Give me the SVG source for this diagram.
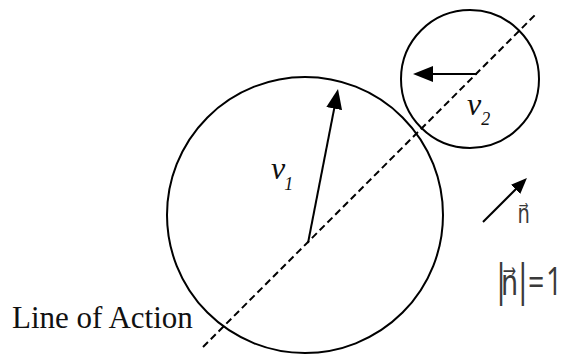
<svg xmlns="http://www.w3.org/2000/svg" width="563" height="357" viewBox="0 0 563 357">
<style>
.ln{stroke:#000;stroke-width:2;fill:none}
.serif{font-family:"Liberation Serif","Times New Roman",serif;fill:#111}
.it{font-style:italic}
.sans{font-family:"Open Sans","DejaVu Sans",sans-serif;fill:#3a3a3a}
</style>
<defs>
<marker id="ah" viewBox="0 0 20 16" refX="10" refY="8" markerWidth="20" markerHeight="16" markerUnits="userSpaceOnUse" orient="auto">
<path d="M0,0 L20,8 L0,16 Z" fill="#000"/>
</marker>
<marker id="ahs" viewBox="0 0 16 13" refX="9" refY="6.5" markerWidth="16" markerHeight="13" markerUnits="userSpaceOnUse" orient="auto">
<path d="M0,0 L16,6.5 L0,13 Z" fill="#000"/>
</marker>
</defs>
<rect width="563" height="357" fill="#fff"/>
<g id="ball1">
<circle class="ln" cx="305" cy="215" r="138"/>
</g>
<g id="ball2">
<circle class="ln" cx="470" cy="79" r="69"/>
</g>
<g id="connectors">
<line class="ln" x1="203" y1="347" x2="535" y2="15" stroke-dasharray="7,4"/>
<line class="ln" x1="308" y1="243" x2="336.1" y2="98.8" marker-end="url(#ah)"/>
<line class="ln" x1="477" y1="74" x2="423" y2="74" marker-end="url(#ah)"/>
<line class="ln" x1="483" y1="222" x2="522" y2="183" marker-end="url(#ahs)"/>
</g>
<g id="labels">
<text class="serif it" x="271" y="179" font-size="32">v<tspan font-size="18" dx="-1" dy="11">1</tspan></text>
<text class="serif it" x="467" y="115" font-size="32">v<tspan font-size="18" dy="10">2</tspan></text>
<text class="serif" x="12" y="328" font-size="31">Line of Action</text>
<g transform="scale(0.75,1)">
<text class="sans" x="690" y="223" font-size="26">n⃗</text>
<text class="sans" y="295" font-size="36"><tspan x="656" font-size="44">|</tspan><tspan x="668">n⃗</tspan><tspan x="685" font-size="44">|</tspan><tspan x="704" font-size="38">=</tspan><tspan x="728" font-size="38">1</tspan></text>
</g>
</g>
</svg>
